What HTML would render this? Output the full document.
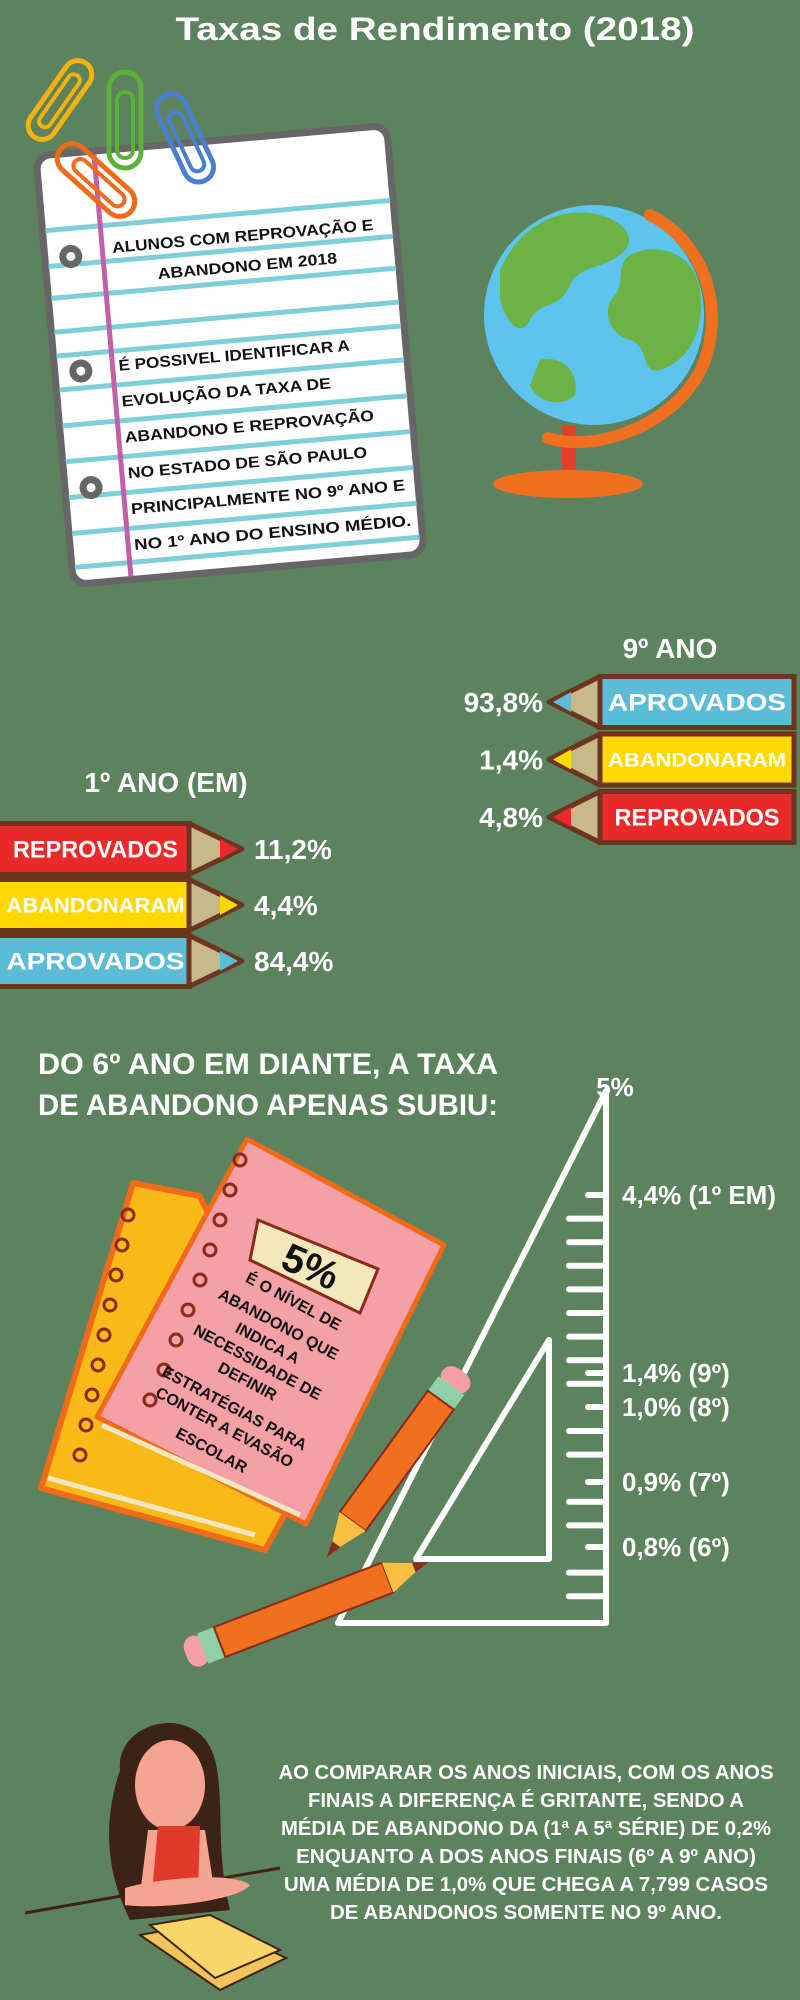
<!DOCTYPE html>
<html><head><meta charset="utf-8"><style>
html,body{margin:0;padding:0;background:#5c825e;}
svg{display:block;font-family:"Liberation Sans","DejaVu Sans",sans-serif;font-weight:bold;}
</style></head><body>
<svg id="root" width="800" height="2000" viewBox="0 0 800 2000" xmlns="http://www.w3.org/2000/svg">
<rect x="0" y="0" width="800" height="2000" fill="#5c825e"/>
<text x="435" y="40" font-size="32" fill="#fff" text-anchor="middle" textLength="519" lengthAdjust="spacingAndGlyphs">Taxas de Rendimento (2018)</text>

<!-- Notepad -->
<g transform="translate(230,355) rotate(-5)">
 <rect x="-176" y="-215" width="352" height="430" rx="14" fill="#fff" stroke="#666" stroke-width="7"/>
 <g stroke="#7fcfdb" stroke-width="5">
  <line x1="-173" y1="-140" x2="173" y2="-140"/><line x1="-173" y1="-104" x2="173" y2="-104"/>
  <line x1="-173" y1="-72" x2="173" y2="-72"/><line x1="-173" y1="-38" x2="173" y2="-38"/>
  <line x1="-173" y1="-14" x2="173" y2="-14"/><line x1="-173" y1="20" x2="173" y2="20"/>
  <line x1="-173" y1="56" x2="173" y2="56"/><line x1="-173" y1="92" x2="173" y2="92"/>
  <line x1="-173" y1="128" x2="173" y2="128"/><line x1="-173" y1="164" x2="173" y2="164"/>
  <line x1="-173" y1="198" x2="173" y2="198"/>
 </g>
 <line x1="-118" y1="-212" x2="-118" y2="212" stroke="#c060a8" stroke-width="5"/>
 <g fill="none" stroke="#666" stroke-width="7">
  <circle cx="-150" cy="-112" r="8"/><circle cx="-150" cy="3" r="8"/><circle cx="-150" cy="120" r="8"/>
 </g>
 <g fill="#111" font-size="15.5">
  <text x="-108" y="-112" textLength="262" lengthAdjust="spacingAndGlyphs">ALUNOS COM REPROVAÇÃO E</text>
  <text x="-65" y="-82" textLength="180" lengthAdjust="spacingAndGlyphs">ABANDONO EM 2018</text>
  <text x="-112" y="6" textLength="232" lengthAdjust="spacingAndGlyphs">É POSSIVEL IDENTIFICAR A</text>
  <text x="-112" y="42" textLength="210" lengthAdjust="spacingAndGlyphs">EVOLUÇÃO DA TAXA DE</text>
  <text x="-112" y="78" textLength="250" lengthAdjust="spacingAndGlyphs">ABANDONO E REPROVAÇÃO</text>
  <text x="-112" y="114" textLength="240" lengthAdjust="spacingAndGlyphs">NO ESTADO DE SÃO PAULO</text>
  <text x="-112" y="150" textLength="275" lengthAdjust="spacingAndGlyphs">PRINCIPALMENTE NO 9º ANO E</text>
  <text x="-112" y="186" textLength="278" lengthAdjust="spacingAndGlyphs">NO 1º ANO DO ENSINO MÉDIO.</text>
 </g>
</g>
<!-- Paper clips -->
<g fill="none" stroke-width="5" stroke-linecap="round">
 <g transform="translate(60,100) rotate(35)"><rect x="-14" y="-45" width="28" height="90" rx="14" stroke="#f5b20f"/><rect x="-6" y="-30" width="12" height="62" rx="6" stroke="#f5b20f" stroke-width="4"/></g>
 <g transform="translate(125,120)"><rect x="-16" y="-48" width="32" height="96" rx="16" stroke="#5db038"/><rect x="-8" y="-28" width="16" height="66" rx="8" stroke="#5db038" stroke-width="4"/></g>
 <g transform="translate(185,138) rotate(-25)"><rect x="-15" y="-47" width="30" height="94" rx="15" stroke="#4a7fd0"/><rect x="-7" y="-28" width="14" height="64" rx="7" stroke="#4a7fd0" stroke-width="4"/></g>
 <g transform="translate(96,180) rotate(-48)"><rect x="-15" y="-47" width="30" height="94" rx="15" stroke="#f06a1a"/><rect x="-7" y="-28" width="14" height="64" rx="7" stroke="#f06a1a" stroke-width="4"/></g>
</g>

<!-- Globe -->
<g>
 <rect x="562" y="425" width="14" height="55" fill="#e0402a"/>
 <ellipse cx="568" cy="484" rx="75" ry="14" fill="#f07020"/>
 <circle cx="594" cy="315" r="110" fill="#5dc4ee"/>
 <path d="M500,270 C520,225 560,205 600,215 C625,222 640,240 620,255 C600,270 580,265 570,285 C560,310 540,300 530,320 C520,340 505,320 500,300 Z" fill="#6ab344"/>
 <path d="M630,255 C660,240 695,255 700,290 C705,330 690,360 660,370 C640,375 650,345 630,340 C610,335 600,310 615,295 C625,285 615,265 630,255 Z" fill="#6ab344"/>
 <path d="M540,360 C560,355 580,370 575,395 C560,410 535,400 530,385 Z" fill="#6ab344"/>
 <path d="M650,215 C700,240 725,300 705,360 C690,400 650,430 600,440 C580,444 560,442 548,438" fill="none" stroke="#f07020" stroke-width="12" stroke-linecap="round"/>
</g>

<!-- Pencil charts -->
<text x="670" y="658" font-size="28" fill="#fff" text-anchor="middle">9º ANO</text>
<text x="166" y="792" font-size="28" fill="#fff" text-anchor="middle">1º ANO (EM)</text>
<g id="pencils9"></g>
<g id="pencils1"></g>

<!-- Section 2 -->
<text x="38" y="1074" font-size="30" fill="#fff" textLength="460" lengthAdjust="spacingAndGlyphs">DO 6º ANO EM DIANTE, A TAXA</text>
<text x="38" y="1115" font-size="30" fill="#fff" textLength="460" lengthAdjust="spacingAndGlyphs">DE ABANDONO APENAS SUBIU:</text>

<!-- Notebooks -->
<g>
 <polygon points="133,1183 200,1196 320,1450 265,1550 41,1488" fill="#f9b918" stroke="#f06a1a" stroke-width="6" stroke-linejoin="round"/>
 <line x1="48" y1="1478" x2="255" y2="1535" stroke="#f0e8c0" stroke-width="5"/>
 <g fill="none" stroke="#8a2a1a" stroke-width="3">
  <circle cx="128" cy="1215" r="6"/><circle cx="122" cy="1245" r="6"/><circle cx="116" cy="1275" r="6"/><circle cx="110" cy="1305" r="6"/><circle cx="104" cy="1335" r="6"/><circle cx="98" cy="1365" r="6"/><circle cx="92" cy="1395" r="6"/><circle cx="86" cy="1425" r="6"/><circle cx="80" cy="1455" r="6"/>
 </g>
 <polygon points="247,1139 444,1245 306,1524 97,1417" fill="#f4a0a4" stroke="#f06a1a" stroke-width="5" stroke-linejoin="round"/>
 <line x1="102" y1="1425" x2="300" y2="1515" stroke="#f0e8c0" stroke-width="5"/>
 <g fill="none" stroke="#8a2a1a" stroke-width="3">
  <circle cx="240" cy="1160" r="6"/><circle cx="230" cy="1190" r="6"/><circle cx="220" cy="1220" r="6"/><circle cx="210" cy="1250" r="6"/><circle cx="200" cy="1280" r="6"/><circle cx="188" cy="1310" r="6"/><circle cx="176" cy="1340" r="6"/><circle cx="164" cy="1370" r="6"/><circle cx="150" cy="1400" r="6"/>
 </g>
 <polygon points="258,1220 378,1269 360,1313 250,1260" fill="#f2e8bc" stroke="#8a2a1a" stroke-width="3"/>
 <text x="310" y="1280" font-size="40" fill="#111" text-anchor="middle" transform="rotate(24 310 1268)">5%</text>
 <g fill="#111" font-size="16" text-anchor="middle">
  <text transform="translate(291,1306) rotate(28)">É O NÍVEL DE</text>
  <text transform="translate(276,1329) rotate(28)">ABANDONO QUE</text>
  <text transform="translate(265,1348) rotate(28)">INDICA A</text>
  <text transform="translate(255,1367) rotate(28)">NECESSIDADE DE</text>
  <text transform="translate(245,1386) rotate(28)">DEFINIR</text>
  <text transform="translate(232,1413) rotate(28)">ESTRATÉGIAS PARA</text>
  <text transform="translate(222,1432) rotate(28)">CONTER A EVASÃO</text>
  <text transform="translate(209,1455) rotate(28)">ESCOLAR</text>
 </g>
</g>

<!-- Triangles -->
<g fill="none" stroke="#fff" stroke-width="6" stroke-linejoin="round">
 <polygon points="606,1091 606,1623 338,1623"/>
 <polygon points="549,1340 549,1559 416,1559"/>
</g>
<text x="615" y="1096" font-size="26" fill="#fff" text-anchor="middle">5%</text>
<g id="ruler"></g>

<!-- Pencils decorative -->
<g transform="translate(462,1371) rotate(126)">
 <rect x="0" y="-16" width="22" height="32" rx="12" fill="#f4a0a4"/>
 <rect x="18" y="-16" width="18" height="32" fill="#8fd0a8"/>
 <rect x="36" y="-16" width="150" height="32" fill="#f07020" stroke="#8a2a1a" stroke-width="2"/>
 <polygon points="186,-16 226,0 186,16" fill="#f9c040"/>
 <polygon points="214,-5 230,0 214,5" fill="#8a2a1a"/>
</g>
<g transform="translate(186,1655) rotate(-21)">
 <rect x="0" y="-16" width="22" height="32" rx="12" fill="#f4a0a4"/>
 <rect x="18" y="-16" width="18" height="32" fill="#8fd0a8"/>
 <rect x="36" y="-16" width="180" height="32" fill="#f07020" stroke="#8a2a1a" stroke-width="2"/>
 <polygon points="216,-16 256,0 216,16" fill="#f9c040"/>
 <polygon points="244,-5 260,0 244,5" fill="#8a2a1a"/>
</g>

<!-- Girl -->
<g>
 <path d="M120,1770 C115,1720 200,1700 215,1760 C225,1800 215,1850 230,1910 L130,1920 C110,1880 100,1830 120,1770 Z" fill="#3d2314"/>
 <ellipse cx="170" cy="1785" rx="35" ry="45" fill="#f4a490"/>
 <path d="M148,1830 L205,1830 L215,1895 L140,1895 Z" fill="#f4a490"/>
 <path d="M158,1826 L200,1826 L198,1893 L152,1893 Z" fill="#e03a28"/>
 <line x1="25" y1="1913" x2="280" y2="1868" stroke="#3d2314" stroke-width="3"/>
 <path d="M125,1888 C150,1880 230,1870 250,1885 C240,1900 160,1910 125,1905 Z" fill="#f4a490"/>
 <polygon points="140,1935 210,1922 286,1958 220,1990" fill="#f2c45a" stroke="#3d2314" stroke-width="2"/>
 <polygon points="150,1925 210,1915 280,1950 215,1978" fill="#f9d66a" stroke="#3d2314" stroke-width="2"/>
</g>

<g fill="#fff" font-size="20" text-anchor="middle">
 <text x="526" y="1779" textLength="495" lengthAdjust="spacingAndGlyphs">AO COMPARAR OS ANOS INICIAIS, COM OS ANOS</text>
 <text x="526" y="1807" textLength="436" lengthAdjust="spacingAndGlyphs">FINAIS A DIFERENÇA É GRITANTE,  SENDO A</text>
 <text x="526" y="1835" textLength="490" lengthAdjust="spacingAndGlyphs">MÉDIA DE ABANDONO DA (1ª A 5ª SÉRIE) DE 0,2%</text>
 <text x="526" y="1863" textLength="460" lengthAdjust="spacingAndGlyphs">ENQUANTO A DOS ANOS FINAIS (6º A 9º ANO)</text>
 <text x="526" y="1891" textLength="484" lengthAdjust="spacingAndGlyphs">UMA MÉDIA DE 1,0% QUE CHEGA A  7,799 CASOS</text>
 <text x="526" y="1919" textLength="392" lengthAdjust="spacingAndGlyphs">DE ABANDONOS SOMENTE NO 9º ANO.</text>
</g>
</svg>
<script>
var cats9 = ["APROVADOS","ABANDONARAM","REPROVADOS"];
var vals9 = [93.8, 1.4, 4.8];
var cats1 = ["REPROVADOS","ABANDONARAM","APROVADOS"];
var vals1 = [11.2, 4.4, 84.4];
var rulerLabels = ["4,4% (1º EM)","1,4% (9º)","1,0% (8º)","0,9% (7º)","0,8% (6º)"];
var rulerValues = [4.4, 1.4, 1.0, 0.9, 0.8];

var NS="http://www.w3.org/2000/svg";
var colorOf={"APROVADOS":"#5cbcd8","ABANDONARAM":"#ffd800","REPROVADOS":"#ea2a2a"};
function mk(tag,attrs,parent){var e=document.createElementNS(NS,tag);for(var k in attrs)e.setAttribute(k,attrs[k]);parent.appendChild(e);return e;}
function fmt(v){return v.toFixed(1).replace(".",",")+"%";}

function drawPencil(parent,cat,val,cy,dir,i){
  var g=mk("g",{},parent);
  
  
  var h=55,top=cy-h/2,bot=cy+h/2,col=colorOf[cat];
  var x0,xb,xt;
  if(dir>0){x0=-10;xb=189;xt=242;}else{x0=794;xb=600;xt=549;}
  var L=Math.min(x0,xb),W=Math.abs(xb-x0);
  mk("rect",{x:L,y:top+2,width:W,height:h-4,fill:col,stroke:"#6b3520","stroke-width":5},g);
  mk("polygon",{points:xb+","+(top+2)+" "+xt+","+cy+" "+xb+","+(bot-2),fill:"#c8b88a",stroke:"#6b3520","stroke-width":5,"stroke-linejoin":"round"},g);
  var lb=xt-dir*22;
  mk("polygon",{points:lb+","+(cy-10)+" "+(xt-dir*4)+","+cy+" "+lb+","+(cy+10),fill:col},g);
  var fs=cat==="ABANDONARAM"?(dir>0?21:19):24;
  var t=mk("text",{x:(x0+xb)/2+(dir>0?6:0),y:cy+fs*0.36,"font-size":fs,fill:"#fff","text-anchor":"middle",textLength:(cat==="REPROVADOS"?165:178),lengthAdjust:"spacingAndGlyphs"},g);
  t.textContent=cat;
  
  
  var p=mk("text",{x:dir>0?xt+12:xt-6,y:cy+10,"font-size":28,fill:"#fff","text-anchor":dir>0?"start":"end"},g);
  p.textContent=fmt(val);
  
  
}
var g9=document.getElementById("pencils9"),g1=document.getElementById("pencils1");
for(var i=0;i<cats9.length;i++)drawPencil(g9,cats9[i],vals9[i],702+i*57.5,-1,i);
for(var j=0;j<cats1.length;j++)drawPencil(g1,cats1[j],vals1[j],849+j*56,1,j);

// ruler piecewise scale (non-linear decorative ruler)
var scaleDomain=[0.8,0.9,1.0,1.4,4.4,5.0];
var scaleRange=[1547,1482,1407,1373,1195,1091];
function yScale(v){
  for(var k=0;k<scaleDomain.length-1;k++){
    if(v<=scaleDomain[k+1]||k===scaleDomain.length-2){
      var t=(v-scaleDomain[k])/(scaleDomain[k+1]-scaleDomain[k]);
      return scaleRange[k]+t*(scaleRange[k+1]-scaleRange[k]);
    }
  }
}
var rg=document.getElementById("ruler");
var labYs=rulerValues.map(yScale);
for(var n=0;n<18;n++){
  var ty=1195+n*23.6,near=false;
  for(var q=0;q<labYs.length;q++)if(Math.abs(labYs[q]-ty)<9)near=true;
  if(near)continue;
  var tk=mk("line",{x1:569,y1:ty,x2:603,y2:ty,stroke:"#fff","stroke-width":6,"stroke-linecap":"round"},rg);
  
  
}
for(var m=0;m<rulerValues.length;m++){
  var yy=yScale(rulerValues[m]);
  var mt=mk("line",{x1:588,y1:yy,x2:603,y2:yy,stroke:"#fff","stroke-width":6,"stroke-linecap":"round"},rg);
  
  
  var lt=mk("text",{x:622,y:yy+9,"font-size":26,fill:"#fff"},rg);
  lt.textContent=rulerLabels[m];
  
  
}
</script>
</body></html>
